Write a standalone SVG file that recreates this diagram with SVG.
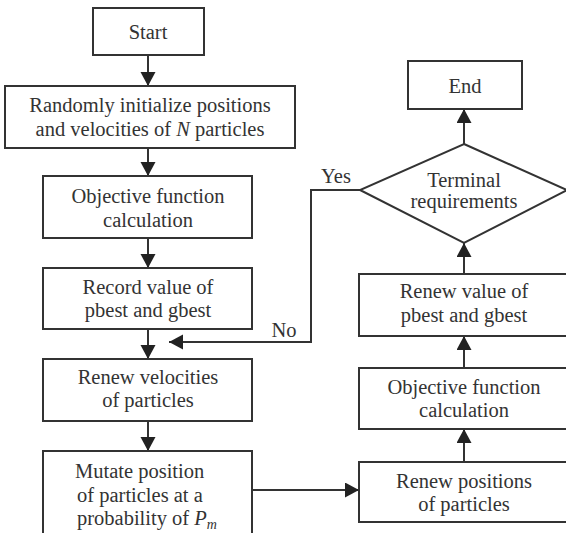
<svg xmlns="http://www.w3.org/2000/svg" width="566" height="533" viewBox="0 0 566 533">
<defs>
<style>
.box{fill:#fff;stroke:#333;stroke-width:2}
.t{font-family:"Liberation Serif","Times New Roman",serif;font-size:20.5px;fill:#333;text-anchor:middle}
.l{text-anchor:start}
.c{fill:none;stroke:#333;stroke-width:2}
</style>
<marker id="ah" markerUnits="userSpaceOnUse" markerWidth="16" markerHeight="16" refX="14" refY="7.5" orient="auto">
<path d="M0,0 L14,7.5 L0,15 z" fill="#222"/>
</marker>
</defs>
<rect width="566" height="533" fill="#fff"/>
<g id="connectors">
<line class="c" x1="148" y1="55" x2="148" y2="86" marker-end="url(#ah)"/>
<line class="c" x1="148" y1="148" x2="148" y2="176" marker-end="url(#ah)"/>
<line class="c" x1="148" y1="238" x2="148" y2="268" marker-end="url(#ah)"/>
<line class="c" x1="148" y1="329" x2="148" y2="359" marker-end="url(#ah)"/>
<line class="c" x1="148" y1="421" x2="148" y2="451" marker-end="url(#ah)"/>
<line class="c" x1="252" y1="490" x2="359" y2="490" marker-end="url(#ah)"/>
<line class="c" x1="464" y1="462" x2="464" y2="429" marker-end="url(#ah)"/>
<line class="c" x1="464" y1="368" x2="464" y2="336" marker-end="url(#ah)"/>
<line class="c" x1="464" y1="274" x2="464" y2="243" marker-end="url(#ah)"/>
<line class="c" x1="464" y1="144" x2="464" y2="109" marker-end="url(#ah)"/>
<polyline class="c" points="360,190 311,190 311,342 169,342" marker-end="url(#ah)"/>
<text class="t" x="336" y="183">Yes</text>
<text class="t" x="284" y="337">No</text>
</g>
<g id="start"><rect class="box" x="93" y="8" width="111" height="47"/><text class="t" x="148" y="39">Start</text></g>
<g id="init"><rect class="box" x="5" y="86" width="290" height="62"/>
<text class="t" x="150" y="112">Randomly initialize positions</text>
<text class="t" x="150" y="136">and velocities of <tspan font-style="italic">N</tspan> particles</text></g>
<g id="objective1"><rect class="box" x="43" y="176" width="209" height="62"/>
<text class="t" x="148" y="203">Objective function</text><text class="t" x="148" y="227">calculation</text></g>
<g id="record"><rect class="box" x="43" y="268" width="209" height="61"/>
<text class="t" x="148" y="294">Record value of</text><text class="t" x="148" y="317">pbest and gbest</text></g>
<g id="renewvel"><rect class="box" x="43" y="359" width="209" height="62"/>
<text class="t" x="148" y="384">Renew velocities</text><text class="t" x="148" y="407">of particles</text></g>
<g id="mutate"><rect class="box" x="43" y="451" width="209" height="100"/>
<text class="t l" x="75" y="478">Mutate position</text>
<text class="t l" x="77" y="502">of particles at a</text>
<text class="t l" x="77" y="525">probability of <tspan font-style="italic">P</tspan><tspan font-style="italic" font-size="14" dy="4">m</tspan></text></g>
<g id="renewpos"><rect class="box" x="359" y="462" width="220" height="60"/>
<text class="t" x="464" y="488">Renew positions</text><text class="t" x="464" y="511">of particles</text></g>
<g id="objective2"><rect class="box" x="359" y="368" width="220" height="61"/>
<text class="t" x="464" y="394">Objective function</text><text class="t" x="464" y="417">calculation</text></g>
<g id="renewval"><rect class="box" x="359" y="274" width="220" height="62"/>
<text class="t" x="464" y="298">Renew value of</text><text class="t" x="464" y="322">pbest and gbest</text></g>
<g id="terminal"><polygon class="box" points="464,144 567,190 464,243 360,190"/>
<text class="t" x="464" y="187">Terminal</text><text class="t" x="464" y="208">requirements</text></g>
<g id="end"><rect class="box" x="408" y="61" width="114" height="48"/><text class="t" x="465" y="93">End</text></g>
</svg>
